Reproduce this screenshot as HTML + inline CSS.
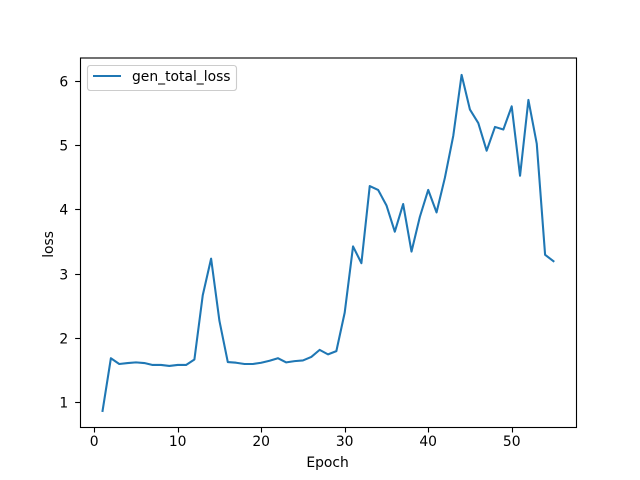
<!DOCTYPE html>
<html>
<head>
<meta charset="utf-8">
<style>
html,body{margin:0;padding:0;background:#fff;}
svg{display:block;}
text{font-family:"DejaVu Sans","Liberation Sans",sans-serif;font-size:13.89px;fill:#000;}
</style>
</head>
<body>
<svg id="chart" width="640" height="480" viewBox="0 0 640 480" xmlns="http://www.w3.org/2000/svg">
  <rect x="0" y="0" width="640" height="480" fill="#fff"/>
  <g id="ticks"></g>
  <path id="series" fill="none" stroke="#1f77b4" stroke-width="2.08" stroke-linejoin="round" stroke-linecap="square"/>
  <rect x="80.5" y="58" width="496" height="369.5" fill="none" stroke="#000" stroke-width="1.11"/>
  <text x="327.6" y="467" text-anchor="middle">Epoch</text>
  <text transform="translate(53,244.4) rotate(-90)" text-anchor="middle">loss</text>
  <g>
    <rect x="87.5" y="65.5" width="149" height="25" rx="2.8" ry="2.8" fill="#fff" fill-opacity="0.8" stroke="#ccc" stroke-width="1.11"/>
    <line x1="93" y1="76" x2="121" y2="76" stroke="#1f77b4" stroke-width="2.08"/>
    <text x="132" y="81">gen_total_loss</text>
  </g>
</svg>
<script>
var epochs = [1,2,3,4,5,6,7,8,9,10,11,12,13,14,15,16,17,18,19,20,21,22,23,24,25,26,27,28,29,30,31,32,33,34,35,36,37,38,39,40,41,42,43,44,45,46,47,48,49,50,51,52,53,54,55];
var lossValues = [0.87,1.69,1.60,1.615,1.625,1.615,1.585,1.585,1.57,1.585,1.585,1.67,2.67,3.24,2.27,1.63,1.62,1.60,1.60,1.62,1.65,1.69,1.625,1.645,1.655,1.71,1.82,1.75,1.80,2.40,3.43,3.17,4.37,4.31,4.07,3.66,4.09,3.35,3.89,4.31,3.96,4.50,5.15,6.10,5.56,5.35,4.92,5.29,5.25,5.61,4.53,5.71,5.03,3.30,3.20];
var xTicks = [0,10,20,30,40,50];
var yTicks = [1,2,3,4,5,6];

var plotLeft = 80, plotRight = 576, plotTop = 57.6, plotBottom = 427.2;
var xMin = Math.min.apply(null, epochs), xMax = Math.max.apply(null, epochs);
var yMin = Math.min.apply(null, lossValues), yMax = Math.max.apply(null, lossValues);
var xPad = (xMax - xMin) * 0.05, yPad = (yMax - yMin) * 0.05;

function xScale(v) {
  return plotLeft + (v - (xMin - xPad)) / ((xMax + xPad) - (xMin - xPad)) * (plotRight - plotLeft);
}
function yScale(v) {
  return plotBottom - (v - (yMin - yPad)) / ((yMax + yPad) - (yMin - yPad)) * (plotBottom - plotTop) + 0.5;
}

var NS = 'http://www.w3.org/2000/svg';
var ticksGroup = document.getElementById('ticks');

xTicks.forEach(function (t) {
  var x = Math.round(xScale(t)) + 0.5;
  var tick = document.createElementNS(NS, 'line');
  
  
  tick.setAttribute('x1', x);
  tick.setAttribute('x2', x);
  tick.setAttribute('y1', plotBottom);
  tick.setAttribute('y2', plotBottom + 5.3);
  tick.setAttribute('stroke', '#000');
  tick.setAttribute('stroke-width', '1.11');
  ticksGroup.appendChild(tick);
  var label = document.createElementNS(NS, 'text');
  
  
  label.setAttribute('x', xScale(t));
  label.setAttribute('y', plotBottom + 19);
  label.setAttribute('text-anchor', 'middle');
  label.textContent = t;
  ticksGroup.appendChild(label);
});

yTicks.forEach(function (t) {
  var y = Math.floor(yScale(t)) + 0.5;
  var tick = document.createElementNS(NS, 'line');
  
  
  tick.setAttribute('x1', plotLeft - 4.86);
  tick.setAttribute('x2', plotLeft);
  tick.setAttribute('y1', y);
  tick.setAttribute('y2', y);
  tick.setAttribute('stroke', '#000');
  tick.setAttribute('stroke-width', '1.11');
  ticksGroup.appendChild(tick);
  var label = document.createElementNS(NS, 'text');
  
  
  label.setAttribute('x', plotLeft - 11.8);
  label.setAttribute('y', y + 5);
  label.setAttribute('text-anchor', 'end');
  label.textContent = t;
  ticksGroup.appendChild(label);
});

var d = epochs.map(function (e, i) {
  return (i === 0 ? 'M' : 'L') + xScale(e).toFixed(2) + ' ' + yScale(lossValues[i]).toFixed(2);
}).join(' ');
document.getElementById('series').setAttribute('d', d);
</script>
</body>
</html>
